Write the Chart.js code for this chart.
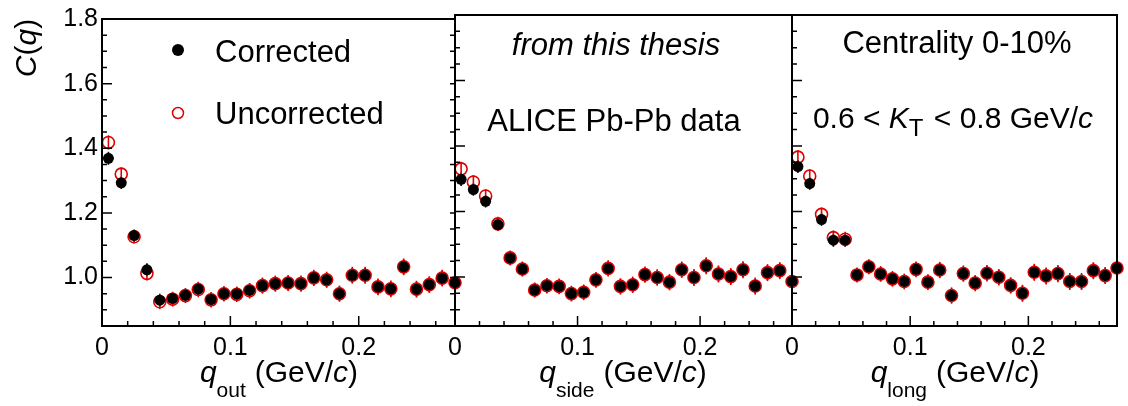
<!DOCTYPE html>
<html>
<head>
<meta charset="utf-8">
<script src="https://cdn.jsdelivr.net/npm/chart.js@4.4.1/dist/chart.umd.min.js"></script>
<style>
  html, body { margin: 0; padding: 0; background: #fff; }
  #wrap { position: relative; width: 1128px; height: 406px; }
  #wrap canvas { position: absolute; left: 0; top: 0; }
</style>
</head>
<body>
<div id="wrap">
  <canvas id="pOut" width="1128" height="406"></canvas>
  <canvas id="pSide" width="1128" height="406"></canvas>
  <canvas id="pLong" width="1128" height="406"></canvas>
</div>
<script>
// bin centres (GeV/c), same for all three projections
const qBins = [0.005, 0.015, 0.025, 0.035, 0.045, 0.055, 0.065, 0.075, 0.085, 0.095,
               0.105, 0.115, 0.125, 0.135, 0.145, 0.155, 0.165, 0.175, 0.185, 0.195,
               0.205, 0.215, 0.225, 0.235, 0.245, 0.255, 0.265, 0.275];

// q_out
const outCorr = [1.369, 1.293, 1.130, 1.024, 0.930, 0.935, 0.945, 0.964, 0.932, 0.950,
                 0.949, 0.960, 0.975, 0.981, 0.983, 0.981, 0.999, 0.993, 0.950, 1.007,
                 1.007, 0.971, 0.965, 1.033, 0.964, 0.978, 0.998, 0.984];
const outUnc  = [1.418, 1.320, 1.126, 1.013, 0.925, 0.933, 0.944, 0.963, 0.931, 0.950,
                 0.948, 0.959, 0.975, 0.981, 0.983, 0.981, 0.999, 0.993, 0.950, 1.007,
                 1.007, 0.971, 0.965, 1.033, 0.964, 0.978, 0.998, 0.984];
// q_side
const sideCorr = [1.298, 1.267, 1.231, 1.160, 1.058, 1.024, 0.960, 0.973, 0.971, 0.949,
                  0.953, 0.991, 1.026, 0.971, 0.976, 1.007, 0.998, 0.984, 1.022, 0.998,
                  1.034, 1.009, 1.001, 1.022, 0.972, 1.013, 1.019, 0.986];
const sideUnc  = [1.330, 1.290, 1.247, 1.162, 1.058, 1.024, 0.960, 0.973, 0.971, 0.949,
                  0.953, 0.991, 1.026, 0.971, 0.976, 1.007, 0.998, 0.984, 1.022, 0.998,
                  1.034, 1.009, 1.001, 1.022, 0.972, 1.013, 1.019, 0.986];
// q_long
const longCorr = [1.337, 1.285, 1.175, 1.112, 1.112, 1.006, 1.031, 1.009, 0.994, 0.986,
                  1.023, 0.984, 1.021, 0.943, 1.010, 0.981, 1.011, 0.999, 0.974, 0.950,
                  1.014, 1.003, 1.010, 0.986, 0.986, 1.019, 1.004, 1.027];
const longUnc  = [1.366, 1.308, 1.191, 1.120, 1.115, 1.006, 1.031, 1.009, 0.994, 0.986,
                  1.023, 0.984, 1.021, 0.943, 1.010, 0.981, 1.011, 0.999, 0.974, 0.950,
                  1.014, 1.003, 1.010, 0.986, 0.986, 1.019, 1.004, 1.027];

// statistical errors
const errCorr = [0.020, 0.019, 0.019, 0.020, 0.020, 0.020, 0.021, 0.021, 0.021, 0.021,
                 0.021, 0.022, 0.022, 0.022, 0.022, 0.022, 0.022, 0.022, 0.023, 0.023,
                 0.023, 0.023, 0.023, 0.023, 0.023, 0.023, 0.023, 0.023];
const errUnc  = [0.022, 0.021, 0.021, 0.022, 0.023, 0.023, 0.023, 0.024, 0.024, 0.024,
                 0.024, 0.024, 0.025, 0.025, 0.025, 0.025, 0.025, 0.025, 0.025, 0.026,
                 0.026, 0.026, 0.026, 0.026, 0.026, 0.026, 0.026, 0.026];

// axis ticks
const xMajor = [0, 0.1, 0.2];
const xMinor = [0.02, 0.04, 0.06, 0.08, 0.12, 0.14, 0.16, 0.18, 0.22, 0.24, 0.26];
const yMajor = [1.0, 1.2, 1.4, 1.6, 1.8];
const yMinor = [0.9, 0.95, 1.05, 1.1, 1.15, 1.25, 1.3, 1.35, 1.45, 1.5, 1.55, 1.65, 1.7, 1.75];

const FONT = "'Liberation Sans', Arial, Helvetica, sans-serif";
const RED = '#e00000';

function fontOf(p) {
  return (p.it ? 'italic ' : '') + (p.s || 30) + 'px ' + FONT;
}

function drawRich(ctx, parts, x, y, align) {
  let w = 0;
  parts.forEach(p => { ctx.font = fontOf(p); w += ctx.measureText(p.t).width + (p.gap || 0); });
  let cx = align === 'center' ? x - w / 2 : x;
  ctx.textAlign = 'left';
  ctx.textBaseline = 'alphabetic';
  parts.forEach(p => {
    ctx.font = fontOf(p);
    ctx.fillText(p.t, cx, y + (p.dy || 0));
    cx += ctx.measureText(p.t).width + (p.gap || 0);
  });
}

const framePlugin = {
  id: 'frame',
  beforeDatasetsDraw(chart) {
    const ctx = chart.ctx, ys = chart.scales.y;
    ctx.save();
    chart.data.datasets.forEach((ds, i) => {
      const meta = chart.getDatasetMeta(i);
      ctx.strokeStyle = ds.barColor;
      ctx.lineWidth = 1.6;
      meta.data.forEach((pt, j) => {
        const v = ds.data[j].y, e = ds.errors[j];
        ctx.beginPath();
        ctx.moveTo(pt.x, ys.getPixelForValue(v - e));
        ctx.lineTo(pt.x, ys.getPixelForValue(v + e));
        ctx.stroke();
      });
    });
    ctx.restore();
  },
  afterDraw(chart, args, o) {
    const ctx = chart.ctx, a = chart.chartArea;
    const xs = chart.scales.x, ys = chart.scales.y;
    ctx.save();
    ctx.strokeStyle = '#000';
    // ticks, ROOT style (pointing inwards)
    ctx.lineWidth = 1.5;
    ctx.beginPath();
    xMajor.forEach(v => { const x = xs.getPixelForValue(v); ctx.moveTo(x, a.bottom); ctx.lineTo(x, a.bottom - 10); });
    xMinor.forEach(v => { const x = xs.getPixelForValue(v); ctx.moveTo(x, a.bottom); ctx.lineTo(x, a.bottom - 5); });
    yMajor.forEach(v => { const y = ys.getPixelForValue(v); ctx.moveTo(a.left, y); ctx.lineTo(a.left + 10, y); });
    yMinor.forEach(v => { const y = ys.getPixelForValue(v); ctx.moveTo(a.left, y); ctx.lineTo(a.left + 5, y); });
    if (o.rightTicks) {
      yMajor.concat(yMinor).forEach(v => { const y = ys.getPixelForValue(v); ctx.moveTo(a.right, y); ctx.lineTo(a.right - 5, y); });
    }
    ctx.stroke();
    // frame
    ctx.lineWidth = 2;
    ctx.strokeRect(a.left, a.top, a.right - a.left, a.bottom - a.top);

    // legend markers
    (o.markers || []).forEach(m => {
      ctx.beginPath();
      ctx.arc(m.x, m.y, m.r, 0, Math.PI * 2);
      if (m.fill) { ctx.fillStyle = '#000'; ctx.fill(); }
      else { ctx.strokeStyle = RED; ctx.lineWidth = 1.5; ctx.stroke(); }
    });

    // texts
    ctx.fillStyle = '#000';
    (o.texts || []).forEach(t => {
      if (t.rot) {
        ctx.save();
        ctx.translate(t.x, t.y);
        ctx.rotate(-Math.PI / 2);
        drawRich(ctx, t.parts, 0, 0, t.align);
        ctx.restore();
      } else {
        drawRich(ctx, t.parts, t.x, t.y, t.align);
      }
    });
    ctx.restore();
  }
};

function axisTitle(sub, cx) {
  return { x: cx, y: 382, align: 'center', parts: [
    { t: 'q', it: true },
    { t: sub, s: 21, dy: 15, gap: 9 },
    { t: '(GeV/' },
    { t: 'c', it: true },
    { t: ')' }
  ] };
}

function makePanel(id, pad, corr, unc, showY, rightTicks, texts, markers) {
  return new Chart(document.getElementById(id), {
    type: 'scatter',
    data: {
      datasets: [
        {
          label: 'Corrected',
          data: qBins.map((q, i) => ({ x: q, y: corr[i] })),
          errors: errCorr,
          barColor: '#000',
          pointRadius: 5.5,
          pointBackgroundColor: '#000',
          pointBorderWidth: 0,
          order: 0,
          clip: false
        },
        {
          label: 'Uncorrected',
          data: qBins.map((q, i) => ({ x: q, y: unc[i] })),
          errors: errUnc,
          barColor: RED,
          pointRadius: 6,
          pointBackgroundColor: 'rgba(0,0,0,0)',
          pointBorderColor: RED,
          pointBorderWidth: 1.6,
          order: 1,
          clip: false
        }
      ]
    },
    options: {
      responsive: false,
      animation: false,
      layout: { padding: { left: pad[0], right: pad[1], top: 15, bottom: 0 } },
      plugins: {
        legend: { display: false },
        tooltip: { enabled: false },
        frame: { rightTicks: rightTicks, texts: texts, markers: markers }
      },
      scales: {
        x: {
          type: 'linear', min: 0, max: 0.275,
          afterBuildTicks: s => { s.ticks = xMajor.map(v => ({ value: v })); },
          ticks: {
            font: { family: FONT, size: 25 }, color: '#000', padding: 7,
            maxRotation: 0, autoSkip: false,
            callback: v => v === 0 ? '0' : v.toFixed(1)
          },
          grid: { display: false, drawTicks: false },
          border: { display: false },
          afterFit: s => { s.height = 80; }
        },
        y: {
          type: 'linear', min: 0.85, max: 1.8,
          afterBuildTicks: s => { s.ticks = yMajor.map(v => ({ value: v })); },
          ticks: {
            display: showY,
            font: { family: FONT, size: 25 }, color: '#000', padding: 4,
            callback: v => v.toFixed(1)
          },
          grid: { display: false, drawTicks: false },
          border: { display: false },
          afterFit: s => { s.width = showY ? 102 : 0; }
        }
      }
    },
    plugins: [framePlugin]
  });
}

makePanel('pOut', [0, 673], outCorr, outUnc, true, true, [
  { x: 36, y: 48, rot: true, align: 'center', parts: [
    { t: 'C', it: true }, { t: '(' }, { t: 'q', it: true }, { t: ')' }
  ] },
  { x: 215, y: 62, parts: [{ t: 'Corrected', s: 31 }] },
  { x: 215, y: 124, parts: [{ t: 'Uncorrected', s: 31 }] },
  axisTitle('out', 279)
], [
  { x: 178, y: 50, r: 6, fill: true },
  { x: 178, y: 113, r: 5.5, fill: false }
]);

makePanel('pSide', [455, 336], sideCorr, sideUnc, false, false, [
  { x: 616, y: 55, align: 'center', parts: [{ t: 'from this thesis', it: true, s: 31 }] },
  { x: 614, y: 131, align: 'center', parts: [{ t: 'ALICE Pb-Pb data', s: 31 }] },
  axisTitle('side', 623)
], []);

makePanel('pLong', [792, 11], longCorr, longUnc, false, false, [
  { x: 957, y: 53, align: 'center', parts: [{ t: 'Centrality 0-10%', s: 31 }] },
  { x: 953, y: 128, align: 'center', parts: [
    { t: '0.6 < ' , s: 30 }, { t: 'K', it: true, s: 30 }, { t: 'T', s: 24, dy: 8, gap: 2 },
    { t: ' < 0.8 GeV/', s: 30 }, { t: 'c', it: true, s: 30 }
  ] },
  axisTitle('long', 955)
], []);
</script>
</body>
</html>
